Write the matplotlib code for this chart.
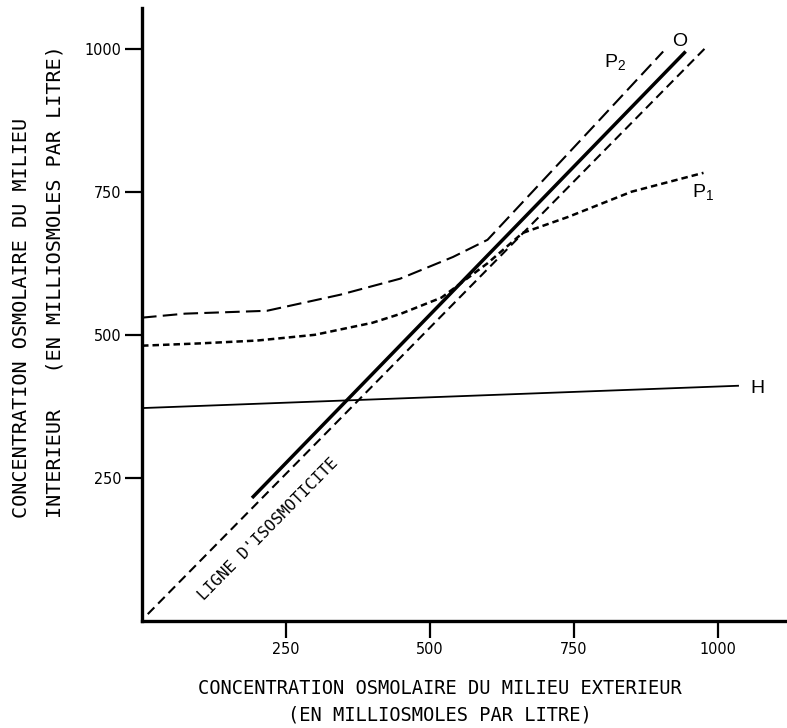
import matplotlib
matplotlib.use("Agg")
import matplotlib.pyplot as plt

# ---- data ----
ticks = [250, 500, 750, 1000]
tick_labels = ["250", "500", "750", "1000"]

iso_x = [10, 980]
iso_y = [12, 1003]

o_x = [191, 944]
o_y = [215, 995]

p2_x = [0, 75, 217, 344, 448, 540, 600, 795, 905]
p2_y = [530, 537, 542, 570, 598, 636, 666, 876, 995]

p1_x = [0, 100, 200, 300, 400, 450, 520, 600, 661, 740, 850, 975]
p1_y = [481, 485, 490, 500, 521, 537, 565, 625, 678, 706, 750, 783]

h_x = [0, 1035]
h_y = [372, 411]

xlabel1 = "CONCENTRATION OSMOLAIRE DU MILIEU EXTERIEUR"
xlabel2 = "(EN MILLIOSMOLES PAR LITRE)"
ylabel1 = "CONCENTRATION OSMOLAIRE DU MILIEU"
ylabel2 = "INTERIEUR   (EN MILLIOSMOLES PAR LITRE)"
iso_label = "LIGNE D'ISOSMOTICITE"

plt.rcParams['mathtext.default'] = 'regular'

W, H = 787, 728
fig = plt.figure(figsize=(W / 100, H / 100), dpi=100)
ax = fig.add_axes([142 / W, (H - 621) / H, 645 / W, 613 / H])
ax.set_xlim(0, 1120)
ax.set_ylim(0, 1071)

ax.plot(iso_x, iso_y, color='black', lw=1.5, dashes=(4.5, 2.6))
ax.plot(o_x, o_y, color='black', lw=2.5, solid_capstyle='butt')
ax.plot(p2_x, p2_y, color='black', lw=1.5, dashes=(7, 3))
ax.plot(p1_x, p1_y, color='black', lw=1.8, dashes=(2.6, 1.6))
ax.plot(h_x, h_y, color='black', lw=1.3)

for s in ['top', 'right']:
    ax.spines[s].set_visible(False)
for s in ['left', 'bottom']:
    ax.spines[s].set_linewidth(2.4)

ax.set_xticks(ticks)
ax.set_yticks(ticks)
ax.set_xticklabels(tick_labels)
ax.set_yticklabels(tick_labels)
for lab in ax.get_xticklabels() + ax.get_yticklabels():
    lab.set_family('DejaVu Sans')
    lab.set_fontstretch('condensed')
    lab.set_fontsize(11.5)
ax.tick_params(axis='both', direction='out', length=12, width=1.6, pad=3)

mono = ['DejaVu Sans Mono']
fig.text(440 / W, 1 - 688 / H, xlabel1, family=mono, fontsize=13.5,
         ha='center', va='center')
fig.text(440 / W, 1 - 715 / H, xlabel2, family=mono, fontsize=13.5,
         ha='center', va='center')
fig.text(22 / W, 1 - 518 / H, ylabel1, family=mono, fontsize=14.5,
         rotation=90, ha='center', va='bottom')
fig.text(55 / W, 1 - 518 / H, ylabel2, family=mono, fontsize=14.5,
         rotation=90, ha='center', va='bottom')

ax.text(220, 160, iso_label, family=mono, fontsize=11.5, rotation=45.5,
        ha='center', va='center', rotation_mode='anchor')

sans = ['Liberation Sans', 'DejaVu Sans']
ax.text(934, 1012, 'O', family=sans, fontsize=14, ha='center', va='center')
ax.text(821, 977, 'P$_2$', family=sans, fontsize=14, ha='center', va='center')
ax.text(974, 750, 'P$_1$', family=sans, fontsize=14, ha='center', va='center')
ax.text(1069, 407, 'H', family=sans, fontsize=14, ha='center', va='center')

fig.savefig('out.png', dpi=100)
